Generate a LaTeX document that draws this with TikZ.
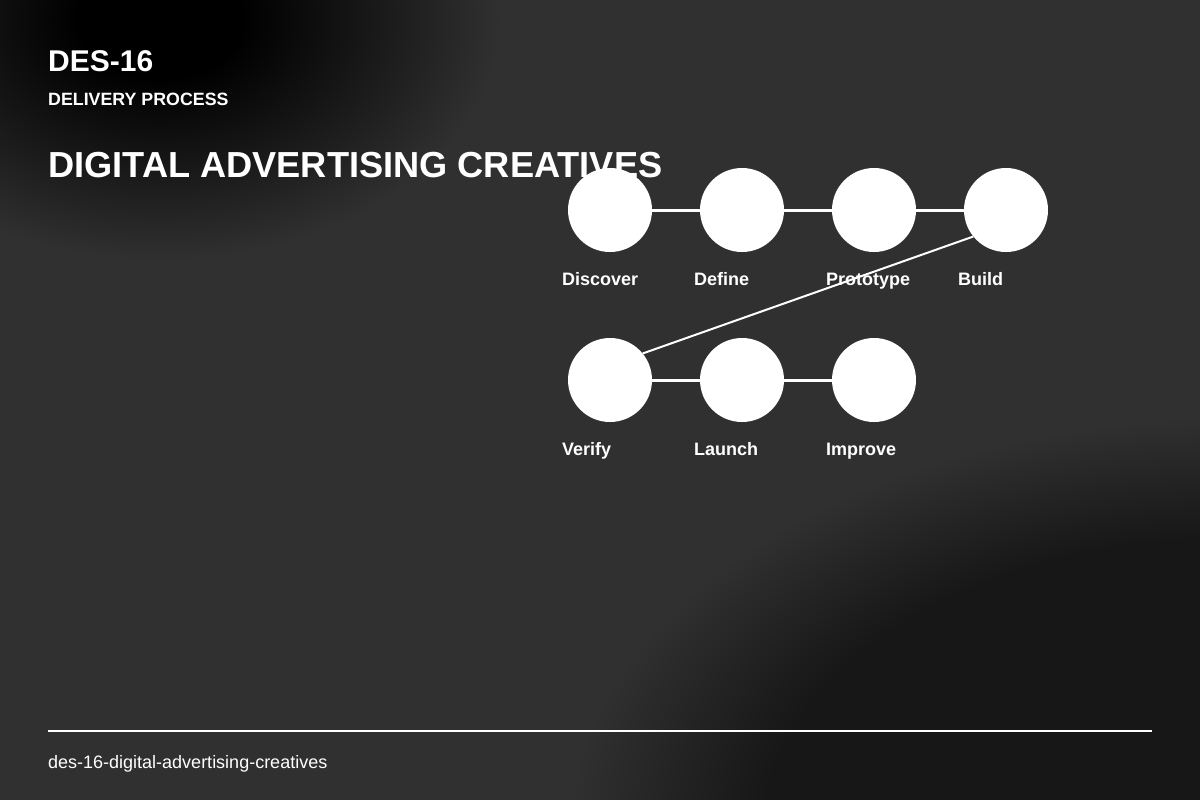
\documentclass[tikz,border=0pt]{standalone}
\usepackage{fontspec}
\setmainfont{Liberation Sans}
\definecolor{bg}{HTML}{303030}
\definecolor{bgdark}{HTML}{171717}
\pgfdeclareradialshading{brdark}{\pgfpoint{0bp}{0bp}}{color(0bp)=(bgdark); color(17bp)=(bgdark); color(24bp)=(bg); color(50bp)=(bg)}
\pgfdeclareradialshading{tldark}{\pgfpoint{0bp}{0bp}}{color(0bp)=(black); color(6bp)=(black); color(25bp)=(bg); color(50bp)=(bg)}
\begin{document}
\begin{tikzpicture}[x=1pt,y=-1pt,
  stage/.style={circle,fill=white,minimum size=84pt,inner sep=0pt},
  lbl/.style={anchor=base west,text=white,font=\bfseries\fontsize{18}{21}\selectfont,inner sep=0pt},
  link/.style={draw=white,line width=3pt},
  jump/.style={draw=white,line width=2pt}]
\useasboundingbox (0,0) rectangle (1200,800);
\fill[bg] (0,0) rectangle (1200,800);
\begin{scope}
\clip (0,0) rectangle (1200,800);
\shade[shading=tldark] (160,20) ellipse [x radius=340,y radius=240];
\shade[shading=brdark] (1240,830) ellipse [x radius=700,y radius=430];
\end{scope}
% header
\node[anchor=base west,text=white,font=\bfseries\fontsize{30}{34}\selectfont,inner sep=0pt] (code) at (48,72) {DES-16};
\node[anchor=base west,text=white,font=\bfseries\fontsize{17.8}{20}\selectfont,inner sep=0pt] (sub) at (48,105) {DELIVERY PROCESS};
\node[anchor=base west,text=white,font=\bfseries\fontsize{36.2}{40}\selectfont,inner sep=0pt] (title) at (48,177) {DIGITAL ADVERTISING CREATIVES};
% stages
\node[stage] (s1) at (610,210) {};
\node[stage] (s2) at (742,210) {};
\node[stage] (s3) at (874,210) {};
\node[stage] (s4) at (1006,210) {};
\node[stage] (s5) at (610,380) {};
\node[stage] (s6) at (742,380) {};
\node[stage] (s7) at (874,380) {};
\draw[link] (s1) -- (s2);
\draw[link] (s2) -- (s3);
\draw[link] (s3) -- (s4);
\draw[link] (s5) -- (s6);
\draw[link] (s6) -- (s7);
\draw[jump] (s4.219) -- (s5.39);
\node[lbl] (l1) at (562,285) {Discover};
\node[lbl] (l2) at (694,285) {Define};
\node[lbl] (l3) at (826,285) {Prototype};
\node[lbl] (l4) at (958,285) {Build};
\node[lbl] (l5) at (562,455) {Verify};
\node[lbl] (l6) at (694,455) {Launch};
\node[lbl] (l7) at (826,455) {Improve};
% footer
\coordinate (fa) at (48,731);
\coordinate (fb) at (1152,731);
\draw[white,line width=2pt] (fa) -- (fb);
\node[anchor=base west,text=white,font=\fontsize{18}{21}\selectfont,inner sep=0pt] (foot) at (48,768) {des-16-digital-advertising-creatives};
\end{tikzpicture}
\end{document}
